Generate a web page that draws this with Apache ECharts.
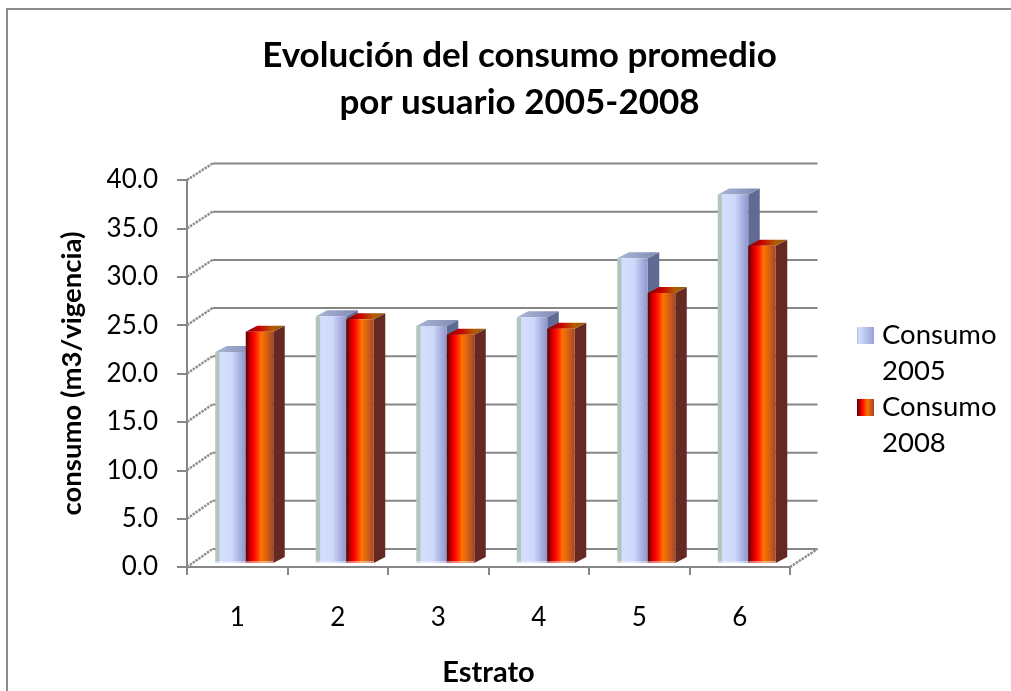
<!DOCTYPE html>
<html><head><meta charset="utf-8">
<style>html,body{margin:0;padding:0;background:#fff}#c{width:1011px;height:691px}</style>
<script src="https://cdn.jsdelivr.net/npm/echarts@6/dist/echarts.min.js"></script>
</head><body><div id="c"></div>
<script>
const categories = ['1','2','3','4','5','6'];
const consumo2005 = [21.8,25.5,24.5,25.4,31.5,38.1];
const consumo2008 = [23.9,25.2,23.6,24.2,27.9,32.8];
const yTicks = [0,5,10,15,20,25,30,35,40];
const FONT = 'Lato';
const GREY = '#868686';
const WALL_DX = 25.5;
const BAR_DY = -4, SIDE = 11.5, TOPH = 6;
const wallDy = v => -18 + v*1.5/40;

const grad = stops => ({type:'linear',x:0,y:0,x2:1,y2:0,colorStops:stops.map(s=>({offset:s[0],color:s[1]}))});
const front05 = grad([[0,'#b3c4bc'],[0.12,'#b3c4bc'],[0.16,'#d3dffe'],[0.55,'#ced9fa'],[0.8,'#a9b2e0'],[1,'#8f96cc']]);
const front08 = grad([[0,'#5a0000'],[0.1,'#a00000'],[0.28,'#ff0000'],[0.42,'#ff3000'],[0.55,'#ff7300'],[0.75,'#d96312'],[1,'#a54527']]);
const top05 = grad([[0,'#aab6d6'],[1,'#7f8ab2']]);
const top08 = grad([[0,'#7a0000'],[0.35,'#c80000'],[0.7,'#b45c00'],[1,'#8a5a18']]);
const side05 = '#5f6b93', side08 = '#652822';

function barRender(front, top, side, x0, w){
  return function(params, api){
    const idx = api.value(0), p = api.coord([idx, api.value(1)]), b = api.coord([idx, 0]);
    const L = p[0]+x0, R = L+w, T = p[1]+BAR_DY, B = b[1]+BAR_DY;
    return {type:'group',children:[
      {type:'polygon',shape:{points:[[R,T],[R+SIDE,T-TOPH],[R+SIDE,B-TOPH],[R,B]]},style:{fill:side}},
      {type:'polygon',shape:{points:[[L,T],[L+SIDE,T-TOPH],[R+SIDE,T-TOPH],[R,T]]},style:{fill:top}},
      {type:'rect',shape:{x:L,y:T,width:w,height:B-T},style:{fill:front}},
      {type:'rect',shape:{x:L,y:B-2,width:w,height:2},style:{fill:'rgba(255,255,255,0.45)'}}
    ]};
  };
}
function wallRender(params, api){
  const v = api.value(0), p = api.coord([0, v]), left = api.coord([0,0])[0]-50.25, right = left+603;
  const st = {stroke:GREY,lineWidth:2,fill:'none'};
  const y = p[1], dy = wallDy(v);
  const diag = {stroke:'#909090',lineWidth:2.5,lineDash:[2.5,1]};
  return {type:'group',children:[
    {type:'line',shape:{x1:left,y1:y,x2:left+WALL_DX,y2:y+dy},style:diag},
    {type:'line',shape:{x1:left+WALL_DX,y1:y+dy,x2:right+WALL_DX+2,y2:y+dy},style:st}
  ].concat(v===0?[{type:'line',shape:{x1:right,y1:y,x2:right+WALL_DX+2,y2:y+dy},style:diag}]:[])};
}
const chart = echarts.init(document.getElementById('c'),null,{renderer:'canvas'});
chart.setOption({
  animation:false,
  backgroundColor:'#fff',
  graphic:[
    {type:'line',shape:{x1:6,y1:9,x2:1011,y2:9},style:{stroke:'#8c8c8c',lineWidth:2}},
    {type:'line',shape:{x1:7,y1:8,x2:7,y2:691},style:{stroke:'#8c8c8c',lineWidth:2}}
  ],
  title:{text:'Evolución del consumo promedio\npor usuario 2005-2008',left:514.5,textAlign:'center',top:27,
    textStyle:{fontFamily:FONT,fontWeight:'bold',fontSize:35,lineHeight:47,color:'#000'}},
  grid:{left:187,top:180,width:603,height:387,containLabel:false,outerBoundsMode:'none'},
  legend:{left:857,top:281.5,padding:0,orient:'vertical',itemWidth:17,itemHeight:17,itemGap:-36,
    data:[{name:'Consumo\n2005',icon:'rect'},{name:'Consumo\n2008',icon:'rect'}],
    formatter:n=>' \n'+n,
    textStyle:{fontFamily:FONT,fontSize:27.5,lineHeight:36,color:'#000',padding:[0,0,0,3]}},
  xAxis:{type:'category',data:categories,name:'Estrato',nameLocation:'middle',nameGap:91,
    nameTextStyle:{fontFamily:FONT,fontWeight:'bold',fontSize:29,color:'#000'},
    axisLine:{lineStyle:{color:GREY,width:2}},axisTick:{show:true,alignWithLabel:false,length:8,lineStyle:{color:GREY,width:2}},
    axisLabel:{fontFamily:FONT,fontSize:26,color:'#000',margin:38},splitLine:{show:false}},
  yAxis:{type:'value',min:0,max:40,interval:5,name:'consumo (m3/vigencia)',nameLocation:'middle',nameGap:101,
    nameTextStyle:{fontFamily:FONT,fontWeight:'bold',fontSize:27.5,color:'#000'},
    axisLine:{show:true,lineStyle:{color:GREY,width:2}},axisTick:{show:true,length:10,lineStyle:{color:GREY,width:2}},
    axisLabel:{fontFamily:FONT,fontSize:26,color:'#000',margin:29,formatter:v=>v.toFixed(1)},splitLine:{show:false}},
  series:[
    {type:'custom',name:'wall',silent:true,z:1,data:yTicks.map(v=>[v]),renderItem:wallRender,encode:{y:0}},
    {type:'custom',name:'Consumo\n2005',z:2,itemStyle:{color:grad([[0,'#b3c4bc'],[0.12,'#d3dffe'],[1,'#9aa2d6']])},
      data:consumo2005.map((v,i)=>[i,v]),renderItem:barRender(front05,top05,side05,-22,30.5),encode:{x:0,y:1}},
    {type:'custom',name:'Consumo\n2008',z:3,itemStyle:{color:grad([[0,'#5a0000'],[0.3,'#ff0000'],[0.6,'#ff7300'],[1,'#a54527']])},
      data:consumo2008.map((v,i)=>[i,v]),renderItem:barRender(front08,top08,side08,8.5,27.5),encode:{x:0,y:1}}
  ]
});
</script></body></html>
